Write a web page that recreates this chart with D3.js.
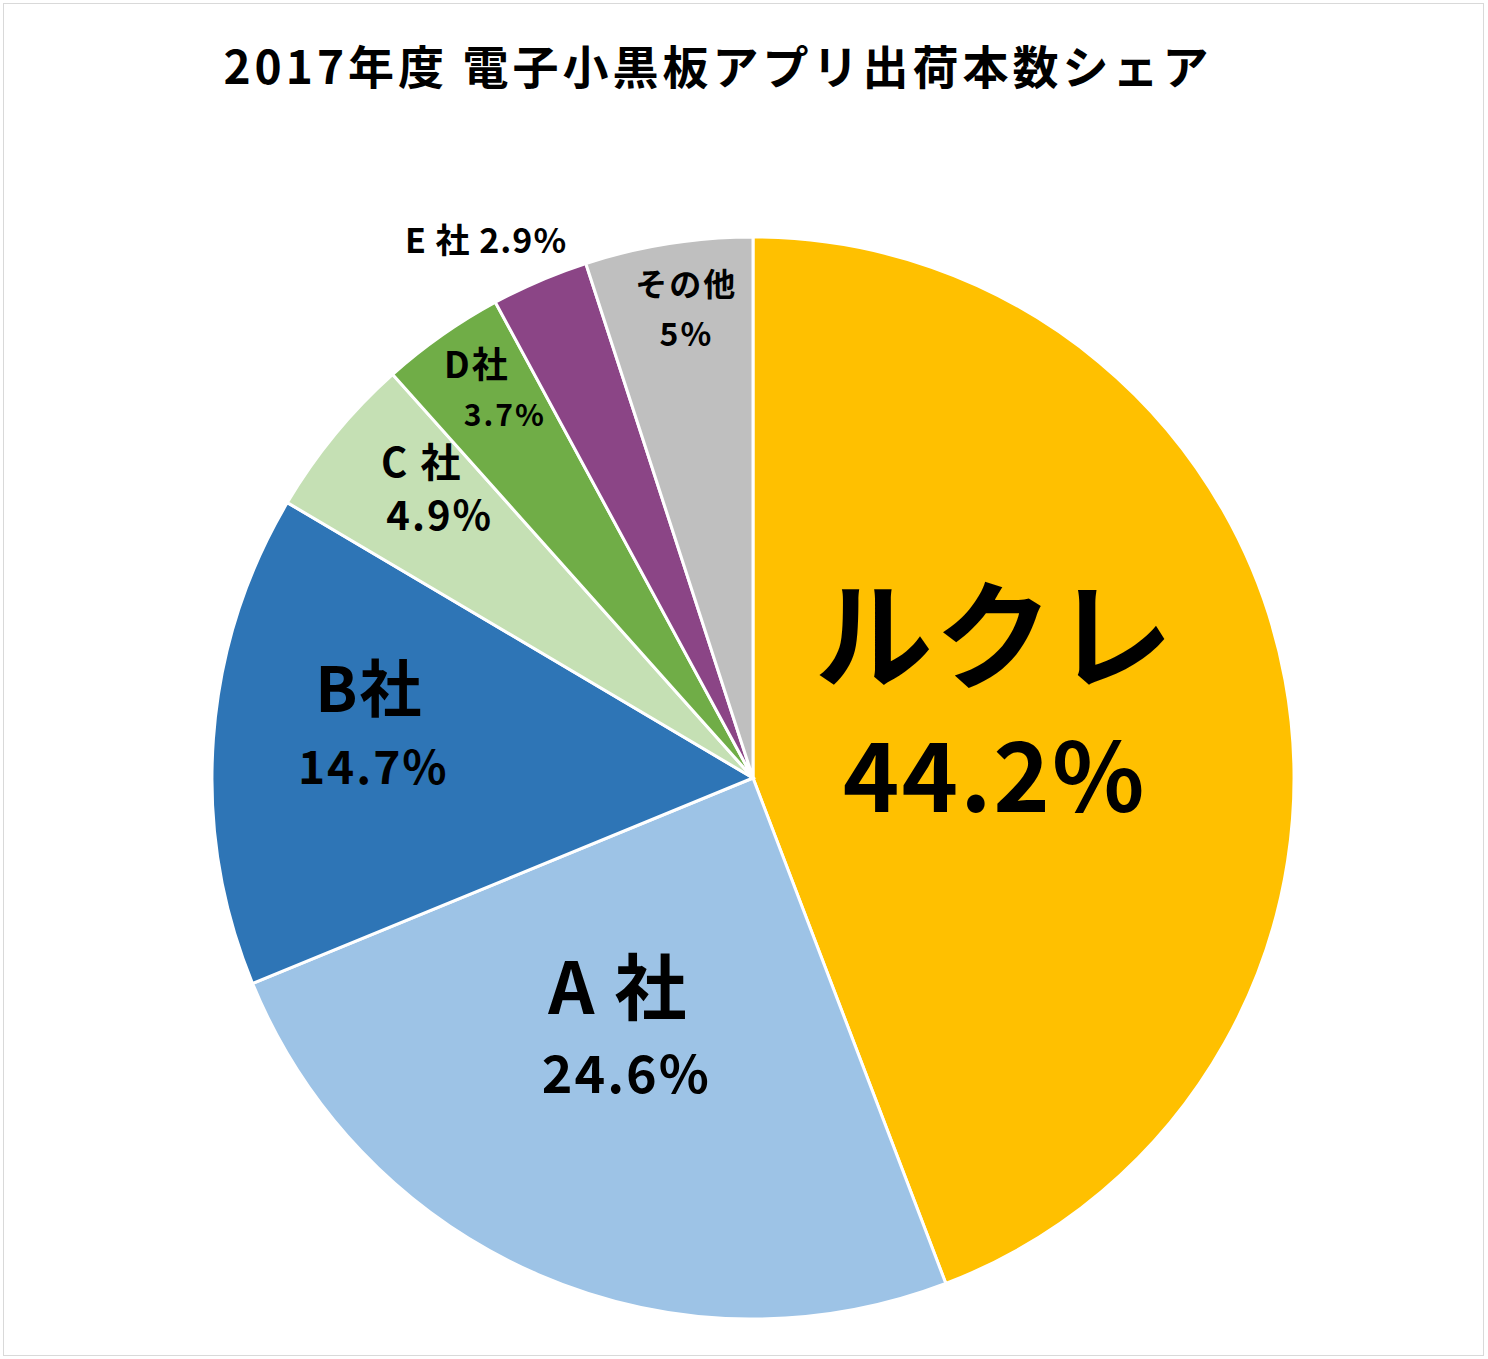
<!DOCTYPE html>
<html><head><meta charset="utf-8">
<script src="https://cdn.jsdelivr.net/npm/d3@7"></script>
<style>
body{margin:0;background:#fff;}
text{font-family:"Noto Sans CJK JP","Noto Sans",sans-serif;font-weight:bold;fill:#000;}
</style></head><body>
<script>
// data
var names = ["ルクレ", "A 社", "B社", "C 社", "D社", "E 社", "その他"];
var shares = [44.2, 24.6, 14.7, 4.9, 3.7, 2.9, 5];
var shareLabels = ["44.2%", "24.6%", "14.7%", "4.9%", "3.7%", "2.9%", "5%"];
var colors = ["#FFC000", "#9DC3E6", "#2E75B6", "#C5E0B4", "#70AD47", "#8B4586", "#BFBFBF"];

var width = 1488, height = 1359, cx = 753, cy = 778, radius = 541;

var svg = d3.select("body").append("svg")
    .attr("width", width).attr("height", height);

svg.append("rect").attr("x", 3.5).attr("y", 3.5)
    .attr("width", 1480).attr("height", 1352)
    .attr("fill", "#fff").attr("stroke", "#d9d9d9");

svg.append("text").attr("x", 718).attr("y", 84)
    .attr("text-anchor", "middle").style("font-size", "46px")
    .style("letter-spacing", "4px")
    .text("2017年度 電子小黒板アプリ出荷本数シェア");

var pie = d3.pie().sort(null).value(function (d) { return d; });
var arcs = pie(shares);
var arc = d3.arc().innerRadius(0).outerRadius(radius);

var g = svg.append("g").attr("transform", "translate(" + cx + "," + cy + ")");
g.selectAll("path").data(arcs).enter().append("path")
    .attr("d", arc)
    .attr("fill", function (d, i) { return colors[i]; })
    .attr("stroke", "#fff").attr("stroke-width", 3);

// label placement: radius fraction, name size, value size, line gap, nudges
var labelOpts = [
    { r: 0.52, ns: 118, vs: 96, gap: 140, dx: -35, dy: -20, vx: 0 },
    { r: 0.58, ns: 72, vs: 52, gap: 86, dx: -10, dy: -35, vx: 8 },
    { r: 0.70, ns: 62, vs: 46, gap: 78, dx: -6, dy: -22, vx: 4 },
    { r: 0.74, ns: 40, vs: 40, gap: 53, dx: -22, dy: -35, vx: 18 },
    { r: 0.74, ns: 36, vs: 30, gap: 50, dx: -46, dy: -60, vx: 28 },
    { r: 1.05, ns: 34, vs: 34, gap: 0, dx: -43, dy: -6, vx: 0 },
    { r: 0.87, ns: 32, vs: 32, gap: 50, dx: 7, dy: -4, vx: 0 }
];

arcs.forEach(function (a, i) {
    var o = labelOpts[i];
    var c = d3.arc().innerRadius(radius * o.r).outerRadius(radius * o.r).centroid(a);
    var x = cx + c[0] + o.dx, y = cy + c[1] + o.dy;
    if (o.gap === 0) {
        svg.append("text").attr("x", x).attr("y", y + 3)
            .attr("text-anchor", "middle").style("font-size", o.ns + "px")
            .style("letter-spacing", "1px")
            .text(names[i] + " " + shareLabels[i]);
        return;
    }
    svg.append("text").attr("x", x).attr("y", y - o.gap / 2 + o.ns * 0.36)
        .attr("text-anchor", "middle").style("font-size", o.ns + "px")
        .style("letter-spacing", "2px")
        .text(names[i]);
    svg.append("text").attr("x", x + o.vx).attr("y", y + o.gap / 2 + o.vs * 0.36)
        .attr("text-anchor", "middle").style("font-size", o.vs + "px")
        .style("letter-spacing", "2px")
        .text(shareLabels[i]);
});
</script>
</body></html>
